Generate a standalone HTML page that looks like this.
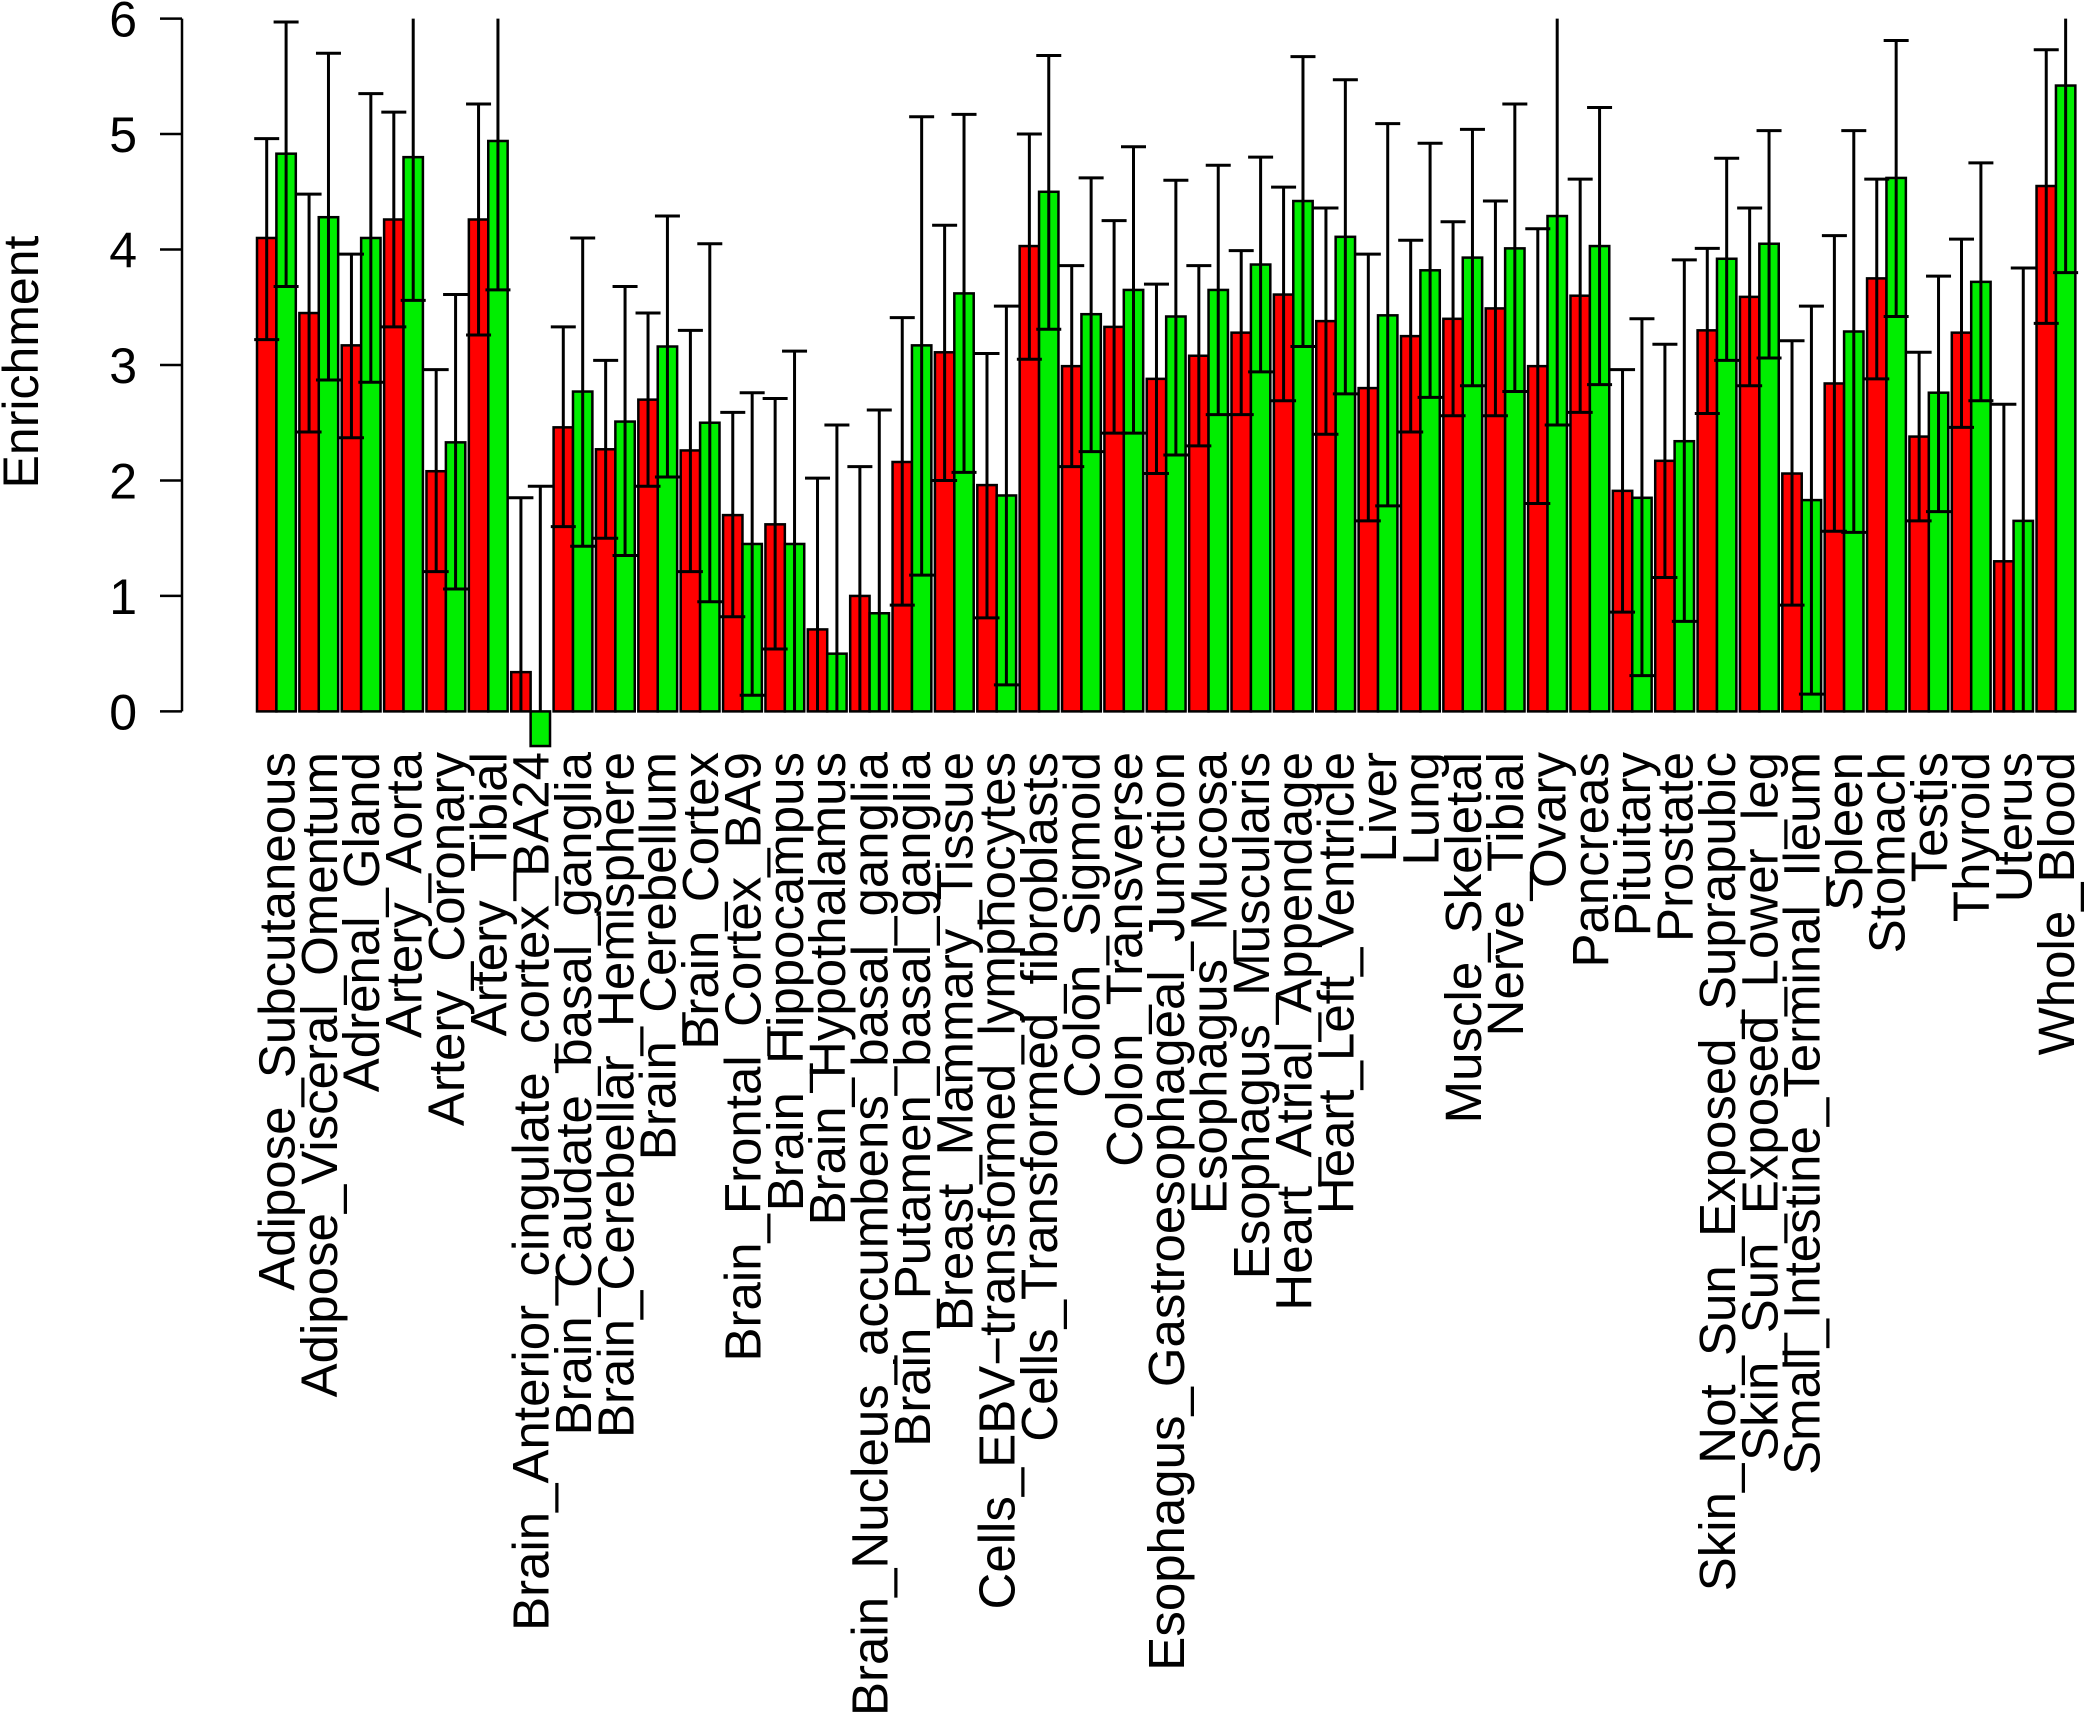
<!DOCTYPE html>
<html><head><meta charset="utf-8"><style>html,body{margin:0;padding:0;background:#fff}svg{display:block}</style></head>
<body>
<svg id="s" width="2085" height="1716" viewBox="0 0 2085 1716" xmlns="http://www.w3.org/2000/svg" font-family="Liberation Sans, Arial, sans-serif"></svg>
<script>
const D=[
["Adipose_Subcutaneous",4.1,3.22,4.96,4.83,3.68,5.97],
["Adipose_Visceral_Omentum",3.45,2.42,4.48,4.28,2.87,5.7],
["Adrenal_Gland",3.17,2.37,3.96,4.1,2.85,5.35],
["Artery_Aorta",4.26,3.33,5.19,4.8,3.56,6.2],
["Artery_Coronary",2.08,1.21,2.96,2.33,1.06,3.61],
["Artery_Tibial",4.26,3.26,5.26,4.94,3.65,6.2],
["Brain_Anterior_cingulate_cortex_BA24",0.34,-1,1.85,-0.3,-2,1.95],
["Brain_Caudate_basal_ganglia",2.46,1.6,3.33,2.77,1.43,4.1],
["Brain_Cerebellar_Hemisphere",2.27,1.5,3.04,2.51,1.35,3.68],
["Brain_Cerebellum",2.7,1.95,3.45,3.16,2.03,4.29],
["Brain_Cortex",2.26,1.21,3.3,2.5,0.95,4.05],
["Brain_Frontal_Cortex_BA9",1.7,0.82,2.59,1.45,0.14,2.76],
["Brain_Hippocampus",1.62,0.54,2.71,1.45,-0.2,3.12],
["Brain_Hypothalamus",0.71,-0.6,2.02,0.5,-1.5,2.48],
["Brain_Nucleus_accumbens_basal_ganglia",1.0,-0.1,2.12,0.85,-0.9,2.61],
["Brain_Putamen_basal_ganglia",2.16,0.92,3.41,3.17,1.18,5.15],
["Breast_Mammary_Tissue",3.11,2.0,4.21,3.62,2.07,5.17],
["Cells_EBV\u2212transformed_lymphocytes",1.96,0.81,3.1,1.87,0.23,3.51],
["Cells_Transformed_fibroblasts",4.03,3.05,5.0,4.5,3.31,5.68],
["Colon_Sigmoid",2.99,2.12,3.86,3.44,2.25,4.62],
["Colon_Transverse",3.33,2.41,4.25,3.65,2.41,4.89],
["Esophagus_Gastroesophageal_Junction",2.88,2.06,3.7,3.42,2.22,4.6],
["Esophagus_Mucosa",3.08,2.3,3.86,3.65,2.57,4.73],
["Esophagus_Muscularis",3.28,2.57,3.99,3.87,2.94,4.8],
["Heart_Atrial_Appendage",3.61,2.69,4.54,4.42,3.16,5.67],
["Heart_Left_Ventricle",3.38,2.4,4.36,4.11,2.75,5.47],
["Liver",2.8,1.65,3.96,3.43,1.78,5.09],
["Lung",3.25,2.42,4.08,3.82,2.72,4.92],
["Muscle_Skeletal",3.4,2.56,4.24,3.93,2.82,5.04],
["Nerve_Tibial",3.49,2.56,4.42,4.01,2.77,5.26],
["Ovary",2.99,1.8,4.18,4.29,2.48,6.2],
["Pancreas",3.6,2.59,4.61,4.03,2.83,5.23],
["Pituitary",1.91,0.86,2.96,1.85,0.31,3.4],
["Prostate",2.17,1.16,3.18,2.34,0.78,3.91],
["Skin_Not_Sun_Exposed_Suprapubic",3.3,2.58,4.01,3.92,3.04,4.79],
["Skin_Sun_Exposed_Lower_leg",3.59,2.82,4.36,4.05,3.06,5.03],
["Small_Intestine_Terminal_Ileum",2.06,0.92,3.21,1.83,0.15,3.51],
["Spleen",2.84,1.56,4.12,3.29,1.55,5.03],
["Stomach",3.75,2.88,4.61,4.62,3.42,5.81],
["Testis",2.38,1.65,3.11,2.76,1.73,3.77],
["Thyroid",3.28,2.46,4.09,3.72,2.69,4.75],
["Uterus",1.3,-0.1,2.66,1.65,-0.5,3.84],
["Whole_Blood",4.55,3.36,5.73,5.42,3.8,6.2]];
const Y=v=>711.4-v*115.47, x0=257, G=42.37, W=19.4;
let h='';
h+=`<line x1="182" y1="${Y(0)}" x2="182" y2="${Y(6)}" stroke="#000" stroke-width="2.5"/>`;
for(let v=0;v<=6;v++){h+=`<line x1="160" y1="${Y(v)}" x2="182" y2="${Y(v)}" stroke="#000" stroke-width="2.5"/>`;
h+=`<text x="137" y="${Y(v)+18}" font-size="50" text-anchor="end">${v}</text>`;}
h+=`<text transform="translate(38,362) rotate(-90)" font-size="50" text-anchor="middle">Enrichment</text>`;
const cl=v=>Math.max(0,Math.min(6,v));
D.forEach((d,i)=>{
 const xr=x0+i*G, xg=xr+W;
 const bar=(x,v,c)=>{const a=Y(Math.max(v,0)),b=Y(Math.min(v,0));h+=`<rect x="${x}" y="${a}" width="${W}" height="${b-a}" fill="${c}" stroke="#000" stroke-width="2.5"/>`;};
 bar(xr,d[1],'#ff0000');bar(xg,d[4],'#00ee00');
 const err=(cx,lo,hi)=>{h+=`<line x1="${cx}" y1="${Y(cl(lo))}" x2="${cx}" y2="${Y(cl(hi))}" stroke="#000" stroke-width="3"/>`;
  if(hi<=6)h+=`<line x1="${cx-12.5}" y1="${Y(hi)}" x2="${cx+12.5}" y2="${Y(hi)}" stroke="#000" stroke-width="3"/>`;
  if(lo>=0)h+=`<line x1="${cx-12.5}" y1="${Y(lo)}" x2="${cx+12.5}" y2="${Y(lo)}" stroke="#000" stroke-width="3"/>`;};
 err(xr+W/2,d[2],d[3]);err(xg+W/2,d[5],d[6]);
 const cx=xr+W+18;
 h+=`<text transform="translate(${cx},752) rotate(-90)" font-size="51" text-anchor="end">${d[0]}</text>`;
});
document.getElementById('s').innerHTML=h;
</script>
</body></html>
